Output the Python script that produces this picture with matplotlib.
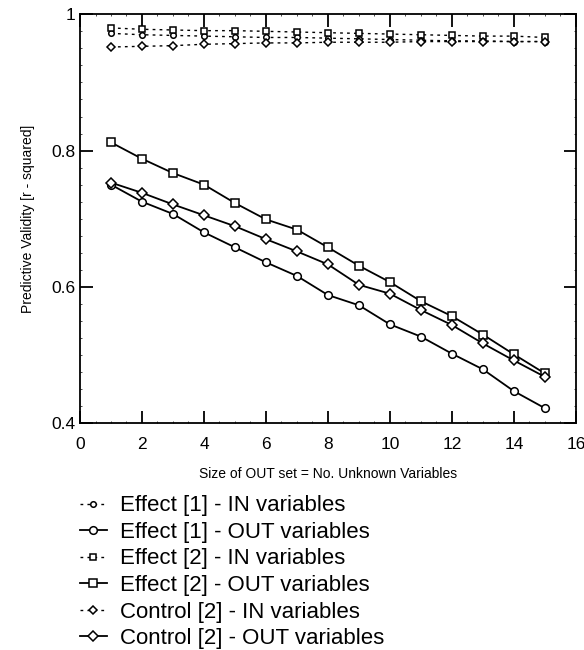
import matplotlib.pyplot as plt
from matplotlib.ticker import MultipleLocator

plt.rcParams['font.family'] = ['Liberation Sans', 'DejaVu Sans']

x = list(range(1, 16))

# IN variables (top rows)
effect1_in = [0.972, 0.970, 0.969, 0.968, 0.967, 0.966, 0.966, 0.965, 0.964, 0.963, 0.962, 0.961, 0.961, 0.960, 0.960]
effect2_in = [0.980, 0.978, 0.977, 0.976, 0.976, 0.975, 0.974, 0.973, 0.972, 0.971, 0.970, 0.969, 0.968, 0.968, 0.966]
control2_in = [0.952, 0.953, 0.954, 0.956, 0.957, 0.958, 0.958, 0.959, 0.959, 0.959, 0.960, 0.960, 0.960, 0.960, 0.960]

# OUT variables
effect1_out = [0.750, 0.725, 0.707, 0.680, 0.658, 0.636, 0.616, 0.588, 0.573, 0.545, 0.527, 0.502, 0.479, 0.447, 0.422]
effect2_out = [0.812, 0.788, 0.767, 0.750, 0.723, 0.699, 0.684, 0.658, 0.631, 0.607, 0.579, 0.557, 0.530, 0.501, 0.473]
control2_out = [0.753, 0.738, 0.721, 0.705, 0.689, 0.670, 0.652, 0.633, 0.603, 0.590, 0.566, 0.544, 0.517, 0.492, 0.468]

labels = ['Effect [1] - IN variables', 'Effect [1] - OUT variables',
          'Effect [2] - IN variables', 'Effect [2] - OUT variables',
          'Control [2] - IN variables', 'Control [2] - OUT variables']

fig = plt.figure(figsize=(5.84, 6.5), dpi=100)
ax = fig.add_axes([0.137, 0.349, 0.849, 0.629])

kw = dict(color='black', markerfacecolor='white', markeredgewidth=1.1)
dash = dict(linestyle=(0, (2, 3)), linewidth=1.0, markersize=4)
solid = dict(linestyle='-', linewidth=1.3, markersize=5.5)

h = []
h += ax.plot(x, effect1_in, marker='o', **dash, **kw)
h += ax.plot(x, effect1_out, marker='o', **solid, **kw)
h += ax.plot(x, effect2_in, marker='s', **dash, **kw)
h += ax.plot(x, effect2_out, marker='s', **solid, **kw)
h += ax.plot(x, control2_in, marker='D', **dash, **kw)
h += ax.plot(x, control2_out, marker='D', **solid, **kw)

ax.set_xlim(0, 16)
ax.set_ylim(0.4, 1.0)
ax.set_xticks(range(0, 17, 2))
ax.set_yticks([0.4, 0.6, 0.8, 1.0])
ax.set_yticklabels(['0.4', '0.6', '0.8', '1'])
ax.xaxis.set_minor_locator(MultipleLocator(0.5))
ax.yaxis.set_minor_locator(MultipleLocator(0.025))
ax.tick_params(which='major', direction='in', length=9, width=1.3,
               top=True, right=True, labelsize=12.5)
ax.tick_params(axis='x', pad=10)
ax.tick_params(axis='y', pad=3)
ax.tick_params(which='minor', direction='in', length=1.5, width=0.5,
               top=True, right=True)
for s in ax.spines.values():
    s.set_linewidth(1.3)

ax.set_xlabel('Size of OUT set = No. Unknown Variables', fontsize=10, labelpad=11)
ax.set_ylabel('Predictive Validity [r - squared]', fontsize=10, labelpad=12)

fig.legend(h, labels, loc='upper left', bbox_to_anchor=(0.137, 0.238),
           frameon=False, fontsize=16, handlelength=1.2, handletextpad=0.6,
           labelspacing=0.25, borderaxespad=0, borderpad=0)

fig.savefig('out.png', dpi=100)
